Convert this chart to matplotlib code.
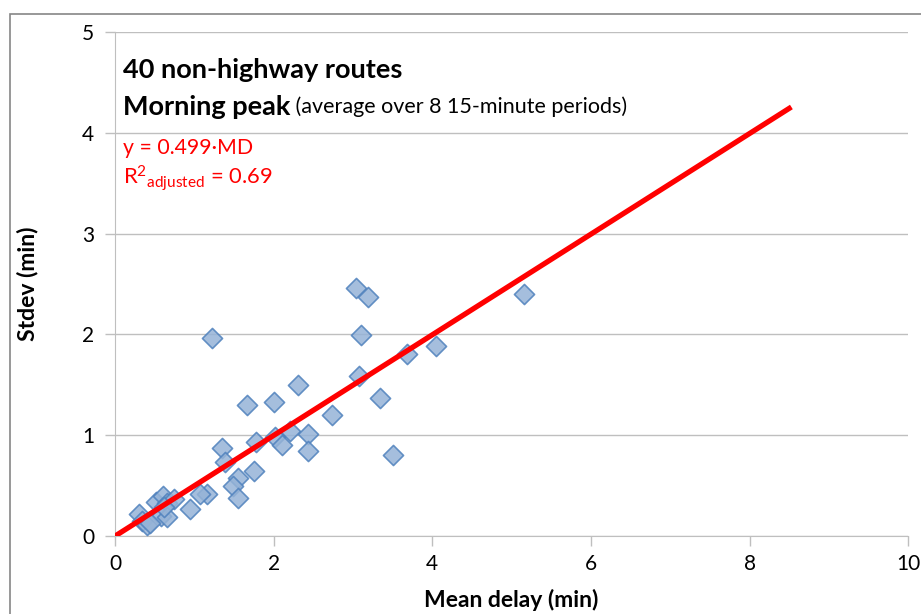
import numpy as np
import matplotlib.pyplot as plt
import matplotlib.patches as patches

plt.rcParams['font.family'] = ['Lato', 'DejaVu Sans']
plt.rcParams['mathtext.fontset'] = 'custom'
plt.rcParams['mathtext.rm'] = 'Lato'
plt.rcParams['mathtext.it'] = 'Lato:italic'

# ---------------- DATA ----------------
mean_delay = [5.15, 3.04, 3.19, 3.10, 1.22, 4.05, 3.68, 3.07, 2.30, 3.34,
              2.00, 1.66, 2.74, 2.21, 2.43, 2.01, 1.78, 2.10, 2.43, 3.51,
              1.35, 1.39, 1.75, 1.55, 1.49, 1.55, 1.16, 1.07, 0.95, 0.30,
              0.34, 0.40, 0.52, 0.60, 0.66, 0.74, 0.58, 0.65, 0.62, 0.44]
stdev = [2.40, 2.46, 2.37, 1.99, 1.96, 1.88, 1.81, 1.59, 1.50, 1.37,
         1.33, 1.30, 1.20, 1.04, 1.01, 0.98, 0.93, 0.90, 0.84, 0.80,
         0.87, 0.73, 0.64, 0.58, 0.50, 0.38, 0.42, 0.42, 0.27, 0.22,
         0.15, 0.11, 0.34, 0.40, 0.33, 0.37, 0.20, 0.19, 0.29, 0.13]

slope = 0.499
fit_x = [0, 8.5]

# ---------------- FIGURE ----------------
fig = plt.figure(figsize=(9.21, 6.14), dpi=100)
ax = fig.add_axes([0.125, 0.127, 0.861, 0.821])

fig.patches.append(patches.Rectangle((0.011, -0.5), 2, 1.477, transform=fig.transFigure,
                                     fill=False, edgecolor="#868686", linewidth=1.2))

ax.scatter(mean_delay, stdev, marker="D", s=105, facecolor="#95B3D7",
           edgecolor="#4F81BD", linewidth=1.2, alpha=0.85, zorder=3)
ax.plot(fit_x, [slope * v for v in fit_x], color="#FF0000", linewidth=3.8, zorder=4)

ax.set_xlim(0, 10)
ax.set_ylim(0, 5)
ax.set_xticks(range(0, 11, 2))
ax.set_yticks(range(0, 6))
ax.grid(axis="y", color="#BFBFBF", linewidth=1)
ax.set_axisbelow(True)
for s in ["top", "right"]:
    ax.spines[s].set_visible(False)
for s in ["left", "bottom"]:
    ax.spines[s].set_color("#BFBFBF")
ax.tick_params(axis="both", colors="#BFBFBF", labelcolor="#000000", labelsize=15, length=7, width=1)
ax.tick_params(axis="y", pad=8)
ax.tick_params(axis="x", pad=6)

ax.set_xlabel("Mean delay (min)", fontsize=16.5, fontweight="bold")
ax.set_ylabel("Stdev (min)", fontsize=16.5, fontweight="bold")
ax.xaxis.set_label_coords(0.5, -0.127)
ax.yaxis.set_label_coords(-0.11, 0.5)
ax.xaxis.label.set_va("center")
ax.yaxis.label.set_va("center")

# ---------------- ANNOTATIONS ----------------
ax.text(0.1, 4.62, "40 non-highway routes", fontsize=19.5, fontweight="bold", va="center")
t = ax.text(0.1, 4.26, "Morning peak", fontsize=19.5, fontweight="bold", va="center")
ax.annotate(" (average over 8 15-minute periods)", xy=(1, 0.5), xycoords=t,
            fontsize=15.5, va="center")
ax.text(0.1, 3.85, "y = 0.499·MD", fontsize=15.3, color="#FF0000", va="center")
ax.text(0.1, 3.55, r"R$^{2}{}_{\mathrm{adjusted}}$ = 0.69", fontsize=15.8, color="#FF0000", va="center")

fig.savefig("out.png", dpi=100)
